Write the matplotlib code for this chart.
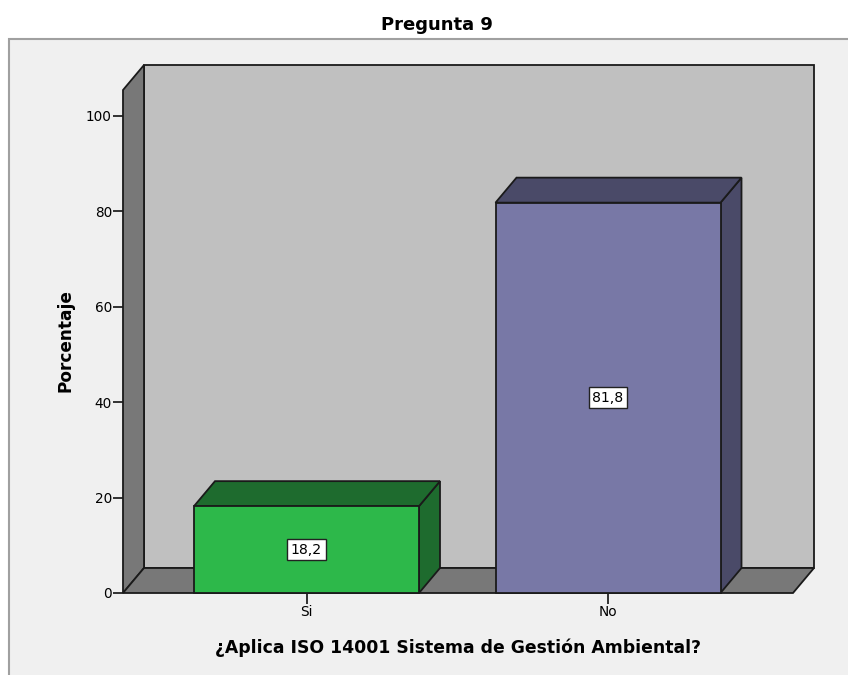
import matplotlib
matplotlib.use("Agg")
import matplotlib.pyplot as plt
from matplotlib.patches import Polygon, Rectangle

# Data
categories = ["Si", "No"]
percentages = [18.2, 81.8]
y_ticks = [0, 20, 40, 60, 80, 100]

title = "Pregunta 9"
x_label = "¿Aplica ISO 14001 Sistema de Gestión Ambiental?"
y_label = "Porcentaje"

# Styling
front_colors = ["#2db84a", "#7878a6"]
dark_colors = ["#1e6b2e", "#4a4a68"]
wall_color = "#c0c0c0"
side_color = "#787878"
frame_color = "#f0f0f0"
edge_color = "#1a1a1a"

W, H = 848, 675
fig = plt.figure(figsize=(W / 100, H / 100), dpi=100)
fig.patch.set_facecolor("white")
plt.rcParams["font.family"] = ["DejaVu Sans"]

# Light panel behind the chart
fig.add_artist(Rectangle((9 / W, -0.05), 1.1, (H - 39) / H + 0.05,
                         transform=fig.transFigure, facecolor=frame_color,
                         edgecolor="#a0a0a0", lw=1.5, zorder=0))

# Front plane of the 3D box (pixels): x 123..793, y 593 (zero) .. 90
ax_l, ax_r, ax_b, ax_t = 123, 793, 593, 90
ax = fig.add_axes([ax_l / W, (H - ax_b) / H, (ax_r - ax_l) / W, (ax_b - ax_t) / H])
ax.set_facecolor("none")
for s in ax.spines.values():
    s.set_visible(False)

px_per_y = 4.772
ymax = (ax_b - ax_t) / px_per_y
x0_px, step_px = 306.5, 301.5
xmin = -(x0_px - ax_l) / step_px
xmax = (ax_r - x0_px) / step_px
ax.set_xlim(xmin, xmax)
ax.set_ylim(0, ymax)

# depth offsets (pixels -> data units)
DX = 21 / step_px
DY = 25 / px_per_y
bar_w = 225 / step_px

lw = 1.3
kw = dict(edgecolor=edge_color, lw=lw, clip_on=False, joinstyle="miter")

# back wall, left wall, floor
ax.add_patch(Rectangle((xmin + DX, DY), xmax - xmin, ymax, facecolor=wall_color, zorder=1, **kw))
ax.add_patch(Polygon([(xmin, 0), (xmin + DX, DY), (xmin + DX, ymax + DY), (xmin, ymax)],
                     closed=True, facecolor=side_color, zorder=2, **kw))
ax.add_patch(Polygon([(xmin, 0), (xmax, 0), (xmax + DX, DY), (xmin + DX, DY)],
                     closed=True, facecolor=side_color, zorder=2, **kw))

# 3D bars
for i, (cat, v) in enumerate(zip(categories, percentages)):
    l, r = i - bar_w / 2, i + bar_w / 2
    ax.add_patch(Polygon([(r, 0), (r + DX, DY), (r + DX, v + DY), (r, v)], closed=True,
                         facecolor=dark_colors[i], zorder=3, **kw))
    ax.add_patch(Polygon([(l, v), (l + DX, v + DY), (r + DX, v + DY), (r, v)], closed=True,
                         facecolor=dark_colors[i], zorder=3, **kw))
    ax.add_patch(Rectangle((l, 0), bar_w, v, facecolor=front_colors[i], zorder=4, **kw))
    ax.text(i, v / 2, f"{v:.1f}".replace(".", ","), ha="center", va="center",
            fontsize=10.2, zorder=6,
            bbox=dict(boxstyle="square,pad=0.25", facecolor="white",
                      edgecolor="#222222", lw=1.0))

ax.set_yticks(y_ticks)
ax.set_yticklabels([str(t) for t in y_ticks])
ax.set_xticks(range(len(categories)))
ax.set_xticklabels(categories)
ax.tick_params(axis="y", length=7, width=1.3, color="#222222", labelsize=9.8, pad=1)
ax.tick_params(axis="x", length=8, width=1.3, color="#222222", labelsize=9.8, pad=1)

fig.text(437 / W, 1 - 25 / H, title, ha="center", va="center", fontsize=13, fontweight="bold")
fig.text(458 / W, 1 - 648 / H, x_label, ha="center", va="center", fontsize=12.4, fontweight="bold")
fig.text(65 / W, 1 - 341 / H, y_label, ha="center", va="center", fontsize=12.2,
         fontweight="bold", rotation=90)

fig.savefig("out.png", dpi=100)
